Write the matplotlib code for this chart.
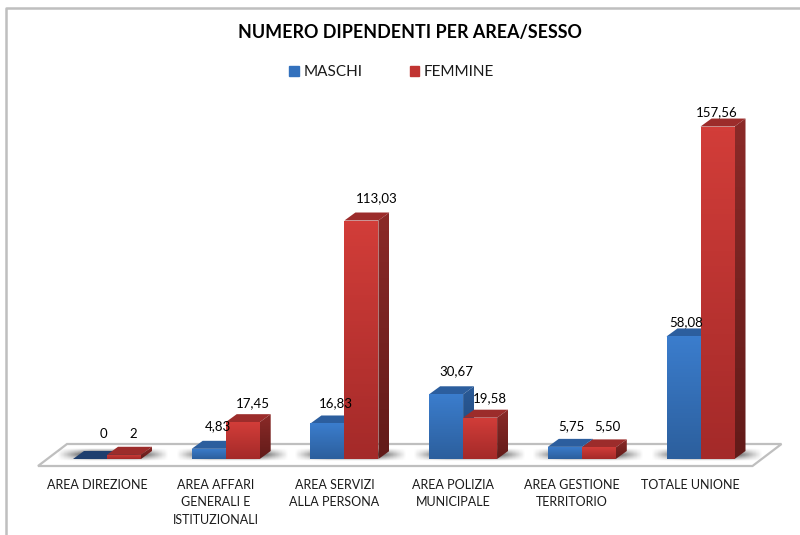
import numpy as np
import matplotlib
matplotlib.use('Agg')
import matplotlib.pyplot as plt
from matplotlib.colors import LinearSegmentedColormap
from matplotlib.patches import Polygon, Patch

plt.rcParams['font.family'] = ['Lato', 'DejaVu Sans']

#data
categories = ['AREA DIREZIONE', 'AREA AFFARI\nGENERALI E\nISTITUZIONALI', 'AREA SERVIZI\nALLA PERSONA',
              'AREA POLIZIA\nMUNICIPALE', 'AREA GESTIONE\nTERRITORIO', 'TOTALE UNIONE']
maschi = [0, 4.83, 16.83, 30.67, 5.75, 58.08]
femmine = [2, 17.45, 113.03, 19.58, 5.50, 157.56]
maschi_labels = ['0', '4,83', '16,83', '30,67', '5,75', '58,08']
femmine_labels = ['2', '17,45', '113,03', '19,58', '5,50', '157,56']

#label offsets from the bar top, in pixels
maschi_off = [(13, 25), (9, 23), (8, 20), (10, 23), (7, 21), (3, 14)]
femmine_off = [(9, 21), (10, 19), (15, 22), (10, 20), (9, 21), (-1, 14)]

#scale: pixels per unit on each axis
px_x = 118.7
px_y = 2.11
x0_px = 107
y0_px = 459
bar_w = 34 / px_x
dx = 11 / px_x
dy = 8 / px_y

fig = plt.figure(figsize=(8, 5.35), dpi=100)
ax = fig.add_axes([0, 0, 1, 1])
xlim = (-x0_px / px_x, (800 - x0_px) / px_x)
ylim = (-(535 - y0_px) / px_y, y0_px / px_y)
ax.axis('off')


def gradient(patch, c_top, c_bottom):
    ax.add_patch(patch)
    patch.set_facecolor('none')
    patch.set_edgecolor('none')
    cmap = LinearSegmentedColormap.from_list('g', [c_top, c_bottom])
    xy = patch.get_xy()
    ext = (xy[:, 0].min(), xy[:, 0].max(), xy[:, 1].min(), xy[:, 1].max())
    im = ax.imshow(np.linspace(0, 1, 64).reshape(-1, 1), cmap=cmap, extent=ext, aspect='auto',
                   origin='upper', zorder=patch.get_zorder())
    im.set_clip_path(patch)


def draw_bar(x, h, front, side, top, z):
    l, r = x, x + bar_w
    ax.add_patch(Polygon([(l, h), (r, h), (r + dx, h + dy), (l + dx, h + dy)], fc=top, ec='none', zorder=z))
    if h > 0:
        gradient(Polygon([(r, 0), (r, h), (r + dx, h + dy), (r + dx, dy)], zorder=z), side[0], side[1])
        gradient(Polygon([(l, 0), (r, 0), (r, h), (l, h)], zorder=z + 0.1), front[0], front[1])


#floor
floor_l, floor_r = -69 / px_x, 5 + 52 / px_x
floor_b, floor_t = -7 / px_y, 15 / px_y
floor_d = 29 / px_x
ax.add_patch(Polygon([(floor_l, floor_b), (floor_r, floor_b), (floor_r + floor_d, floor_t), (floor_l + floor_d, floor_t)],
                     fc='white', ec='#bfbfbf', lw=1.6, zorder=1))

#shadows under each group
xs = np.linspace(0, 1, 80)
ys = np.linspace(0, 1, 30)
ax_mask = np.clip(np.minimum(xs / 0.3, (1 - xs) / 0.3), 0, 1)
ay_mask = np.clip(np.minimum(ys / 0.45, (1 - ys) / 0.45), 0, 1)
shadow = np.zeros((30, 80, 4))
shadow[..., 3] = 0.75 * np.outer(ay_mask, ax_mask)
for i in range(len(categories)):
    ax.imshow(shadow, extent=(i - bar_w - 16 / px_x, i + bar_w + 28 / px_x, -2 / px_y, 11 / px_y),
              aspect='auto', zorder=2)

#bars
blue_front = ('#3b7dcd', '#2c5f9d')
blue_side = ('#2a5a96', '#1f4677')
red_front = ('#d23d39', '#a42a29')
red_side = ('#8b2a28', '#621b19')
for i in range(len(categories)):
    z = 3 + i
    blue_top = '#2c5e9e' if maschi[i] > 0 else '#1f3f6e'
    draw_bar(i - bar_w, maschi[i], blue_front, blue_side, blue_top, z)
    draw_bar(i, femmine[i], red_front, red_side, '#9c2c2b', z + 0.3)

#value labels
for i in range(len(categories)):
    ax.annotate(maschi_labels[i], (i - bar_w / 2, maschi[i]), xytext=maschi_off[i], textcoords='offset pixels',
                ha='center', va='center', fontsize=9.5, color='black', zorder=20)
    ax.annotate(femmine_labels[i], (i + bar_w / 2, femmine[i]), xytext=femmine_off[i], textcoords='offset pixels',
                ha='center', va='center', fontsize=9.5, color='black', zorder=20)

#category labels
for i, c in enumerate(categories):
    ax.annotate(c, (i, 0), xytext=(-10, -20), textcoords='offset pixels', ha='center', va='top',
                fontsize=9, color='#1a1a1a', linespacing=1.55, zorder=20)

ax.set_xlim(xlim)
ax.set_ylim(ylim)

#title and legend
fig.text(410 / 800, 1 - 32.5 / 535, 'NUMERO DIPENDENTI PER AREA/SESSO', ha='center', va='center',
         fontsize=12.85, fontweight='bold', color='black')
handles = [Patch(color='#3371bd', label='MASCHI'), Patch(color='#c13432', label='FEMMINE')]
fig.legend(handles=handles, loc='center', bbox_to_anchor=(391.5 / 800, 1 - 72 / 535), ncol=2, frameon=False,
           fontsize=11, handlelength=0.65, handleheight=0.65, handletextpad=0.26, columnspacing=3.1,
           labelcolor='#1a1a1a')

#chart frame
ax.plot([0.008, 0.008, 1], [0, 1 - 8 / 535, 1 - 8 / 535], transform=ax.transAxes, color='#bfbfbf', lw=1.8,
        clip_on=False, zorder=0)

fig.savefig('out.png', dpi=100)
